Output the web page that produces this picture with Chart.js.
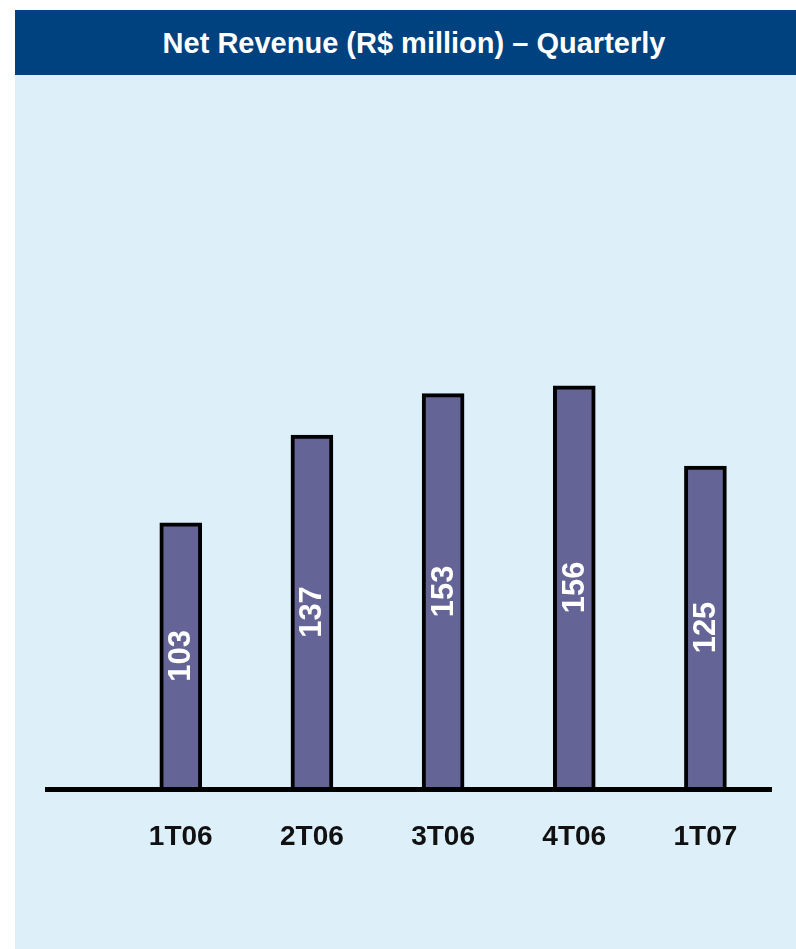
<!DOCTYPE html>
<html lang="en">
<head>
  <meta charset="UTF-8" />
  <title>Net Revenue - Quarterly</title>
  <script src="https://cdn.jsdelivr.net/npm/chart.js"></script>
  <style>
    body {
      margin: 0;
      background: #ffffff;
      font-family: "Liberation Sans", Arial, sans-serif;
    }
    .panel {
      position: absolute;
      left: 15px;
      top: 10px;
      width: 781px;
      height: 939px;
      background: #ddf0fa;
    }
    .panel header {
      height: 65px;
      line-height: 66px;
      background: #00427f;
      color: #ffffff;
      font-weight: bold;
      font-size: 29px;
      text-align: center;
      padding-left: 17px;
    }
    .chart-box {
      position: relative;
      width: 781px;
      height: 874px;
    }
  </style>
</head>
<body>

  <div class="panel">
    <header>Net Revenue (R$ million) – Quarterly</header>
    <div class="chart-box">
      <canvas id="revenueChart"></canvas>
    </div>
  </div>

  <script>
    const quarters = ["1T06", "2T06", "3T06", "4T06", "1T07"];
    const netRevenue = [103, 137, 153, 156, 125];

    // white rotated numbers in the middle of each bar
    const barValues = {
      id: 'barValues',
      afterDatasetsDraw(chart) {
        const ctx = chart.ctx;
        const meta = chart.getDatasetMeta(0);
        ctx.save();
        ctx.fillStyle = '#ffffff';
        ctx.font = 'bold 31px "Liberation Sans", Arial, sans-serif';
        ctx.textAlign = 'center';
        ctx.textBaseline = 'middle';
        meta.data.forEach((bar, i) => {
          const mid = (bar.y + bar.base) / 2;
          ctx.save();
          ctx.translate(bar.x + 1, mid);
          ctx.rotate(-Math.PI / 2);
          ctx.fillText(String(netRevenue[i]), 0, 0);
          ctx.restore();
        });
        ctx.restore();
      }
    };

    new Chart(document.getElementById("revenueChart"), {
      type: "bar",
      data: {
        datasets: [{
          label: "Net Revenue",
          data: netRevenue.map((v, i) => ({ x: i, y: v })),
          backgroundColor: "#646496",
          borderColor: "#000000",
          borderWidth: 4,
          barThickness: 42
        }]
      },
      options: {
        responsive: true,
        maintainAspectRatio: false,
        animation: false,
        layout: {
          padding: { top: 68, left: 32, right: 25, bottom: 0 }
        },
        plugins: {
          legend: { display: false },
          tooltip: { enabled: false }
        },
        scales: {
          x: {
            type: 'linear',
            offset: false,
            min: -1.02,
            max: 4.5,
            grid: { display: false, drawTicks: false, offset: false },
            border: { display: true, color: '#000000', width: 5, z: 1 },
            afterBuildTicks(scale) {
              scale.ticks = quarters.map((_, i) => ({ value: i }));
            },
            afterFit(scale) {
              scale.height = 160;
            },
            ticks: {
              autoSkip: false,
              maxRotation: 0,
              padding: 31,
              color: '#111111',
              font: { family: '"Liberation Sans", Arial, sans-serif', size: 28, weight: 'bold' },
              callback: (value) => quarters[value] ?? ''
            }
          },
          y: {
            display: false,
            min: 0,
            max: 250
          }
        }
      },
      plugins: [barValues]
    });
  </script>
</body>
</html>
